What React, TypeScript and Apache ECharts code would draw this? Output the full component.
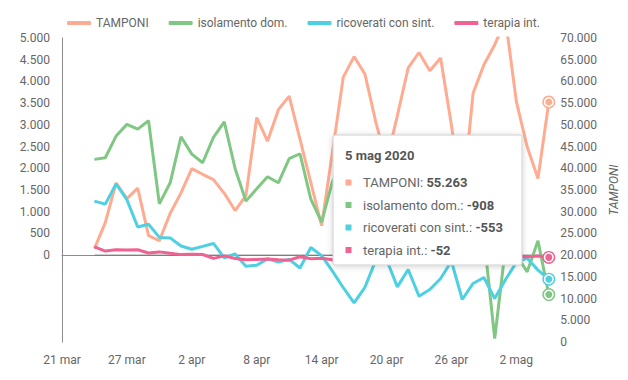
import React, { useEffect, useRef } from 'react';
import * as echarts from 'echarts';

// day offset (from 21 mar) of the first data point (24 mar)
const firstDay = 3;
const xTickLabels = ['21 mar', '27 mar', '2 apr', '8 apr', '14 apr', '20 apr', '26 apr', '2 mag'];
const seriesNames = ['TAMPONI', 'isolamento dom.', 'ricoverati con sint.', 'terapia int.'];
const colors = ['#FFAB91', '#81C784', '#4DD0E1', '#F06292'];
const tooltipTitle = '5 mag 2020';

const tamponi = [
  21496, 27481, 36615, 33019, 35447, 24504, 23329, 29609, 34346, 39918,
  38617, 37375, 34237, 30271, 33713, 51680, 46244, 53495, 56609, 46720,
  36717, 26779, 43715, 60999, 65705, 61725, 50708, 41483, 52126, 63101,
  66658, 62447, 65387, 49916, 32003, 57272, 63827, 68456, 74208, 55412,
  44935, 37631, 55263,
];
const isolamento = [
  2205, 2242, 2742, 3011, 2903, 3094, 1180, 1666, 2726, 2327,
  2127, 2712, 3071, 1997, 1244, 1527, 1804, 1666, 2220, 2335,
  1290, 761, 1700, 2200, 2600, 700, 2300, 1500, 1100, 300,
  1000, 1400, 600, 200, 400, -100, 420, -1920, 190, 10,
  -385, 330, -908,
];
const ricoverati = [
  1245, 1175, 1641, 1276, 647, 710, 409, 397, 211, 137,
  201, 269, -61, 27, -258, -233, -86, -157, -98, -297,
  176, -12, -368, -750, -1100, -740, -120, -100, -730, -330,
  -945, -790, -537, -140, -1021, -652, -514, -1000, -560, -170,
  -70, -345, -553,
];
const terapia = [
  192, 93, 123, 120, 124, 50, 75, 42, 12, 18,
  15, -74, -17, -79, -106, -99, -88, -108, -116, -38,
  -83, -74, -107, -143, -124, -79, -98, -62, -102, -87,
  -117, -94, -71, -93, -53, -93, -68, -101, -116, -39,
  -38, -22, -52,
];

const FONT = 'Roboto, "Noto Sans", sans-serif';

function fmt(v: number): string {
  const s = Math.round(Math.abs(v)).toString().replace(/\B(?=(\d{3})+(?!\d))/g, '.');
  return (v < 0 ? '-' : '') + s;
}

function buildSeries(name: string, values: number[], color: string, yAxisIndex: number) {
  const last = values.length - 1;
  const data = values.map((v, i) => {
    if (i === last) {
      return {
        value: [firstDay + i, v],
        symbol: 'circle',
        symbolSize: 13,
        itemStyle: { color },
      };
    }
    return [firstDay + i, v];
  });
  return {
    name,
    type: 'line',
    yAxisIndex,
    data,
    symbol: 'none',
    showSymbol: true,
    color,
    lineStyle: { color, width: 3 },
    emphasis: { disabled: true },
    silent: true,
    markPoint: {
      silent: true,
      symbol: 'circle',
      symbolSize: 8.5,
      label: { show: false },
      itemStyle: { color, borderColor: '#fff', borderWidth: 1.5 },
      data: [{ coord: [firstDay + last, values[last]] }],
    },
  };
}

export default function App() {
  const ref = useRef<HTMLDivElement>(null);

  useEffect(() => {
    document.body.style.margin = '0';
    if (!ref.current) return;
    const chart = echarts.init(ref.current, undefined, { renderer: 'svg' });

    const allValues = [tamponi, isolamento, ricoverati, terapia];
    const lastIdx = tamponi.length - 1;
    const zeroLine = {
      name: 'zero',
      type: 'line',
      yAxisIndex: 0,
      data: [[firstDay, 0], [firstDay + lastIdx, 0]],
      symbol: 'none',
      lineStyle: { color: '#777', width: 1 },
      z: 1,
      silent: true,
      emphasis: { disabled: true },
    };

    const boxX = 333;
    const boxY = 135;
    const rowY0 = 182.5;
    const rowStep = 22.5;
    const graphics: any[] = [
      {
        type: 'rect',
        z: 100,
        shape: { x: boxX, y: boxY, width: 189, height: 130, r: 2 },
        style: {
          fill: '#fff',
          stroke: '#cfcfcf',
          lineWidth: 1,
          shadowBlur: 6,
          shadowColor: 'rgba(0,0,0,0.18)',
          shadowOffsetY: 1,
        },
      },
      {
        type: 'text',
        z: 101,
        x: 345,
        y: 155,
        style: {
          text: tooltipTitle,
          font: `bold 13px ${FONT}`,
          fill: '#555',
          verticalAlign: 'middle',
        },
      },
    ];
    seriesNames.forEach((name, k) => {
      const y = rowY0 + k * rowStep;
      graphics.push({
        type: 'rect',
        z: 101,
        shape: { x: 345.5, y: y - 3, width: 6, height: 6 },
        style: { fill: colors[k] },
      });
      graphics.push({
        type: 'text',
        z: 101,
        x: 363,
        y,
        style: {
          text: `{a|${name}: }{b|${fmt(allValues[k][lastIdx])}}`,
          verticalAlign: 'middle',
          rich: {
            a: { fontSize: 13, fontFamily: FONT, fill: '#666', fontWeight: 'normal' },
            b: { fontSize: 13, fontFamily: FONT, fill: '#555', fontWeight: 'bold' },
          },
        },
      });
    });

    chart.setOption({
      animation: false,
      textStyle: { fontFamily: FONT },
      legend: {
        data: seriesNames,
        top: 12,
        left: 62,
        icon: 'roundRect',
        itemWidth: 24,
        itemHeight: 4,
        itemGap: 20,
        textStyle: { color: '#666', fontSize: 12, fontFamily: FONT },
      },
      grid: { left: 62, right: 70, top: 38, bottom: 38 },
      xAxis: {
        type: 'value',
        min: 0,
        max: 45.5,
        interval: 6,
        axisLine: { show: true, lineStyle: { color: '#8c8c8c', width: 1 } },
        axisTick: { show: false },
        splitLine: { show: false },
        axisLabel: {
          color: '#666',
          fontSize: 12,
          margin: 12,
          formatter: (v: number) => (v % 6 === 0 ? xTickLabels[v / 6] ?? '' : ''),
        },
      },
      yAxis: [
        {
          type: 'value',
          min: -2000,
          max: 5000,
          interval: 500,
          axisLine: { show: true, lineStyle: { color: '#8c8c8c', width: 1 } },
          axisTick: { show: false },
          splitLine: { show: false },
          axisLabel: {
            color: '#666',
            fontSize: 12,
            margin: 12,
            formatter: (v: number) => (v < 0 ? '' : fmt(v)),
          },
        },
        {
          type: 'value',
          position: 'right',
          min: 0,
          max: 70000,
          interval: 5000,
          name: 'TAMPONI',
          nameLocation: 'middle',
          nameGap: 50,
          nameTextStyle: { color: '#666', fontSize: 12, fontStyle: 'italic' },
          axisLine: { show: false },
          axisTick: { show: false },
          splitLine: { show: false },
          axisLabel: {
            color: '#666',
            fontSize: 12,
            margin: 6,
            formatter: (v: number) => fmt(v),
          },
        },
      ],
      series: [
        zeroLine,
        buildSeries(seriesNames[0], tamponi, colors[0], 1),
        buildSeries(seriesNames[1], isolamento, colors[1], 0),
        buildSeries(seriesNames[2], ricoverati, colors[2], 0),
        buildSeries(seriesNames[3], terapia, colors[3], 0),
      ],
      graphic: graphics,
    });

    return () => chart.dispose();
  }, []);

  return <div ref={ref} style={{ width: 628, height: 380 }} />;
}
